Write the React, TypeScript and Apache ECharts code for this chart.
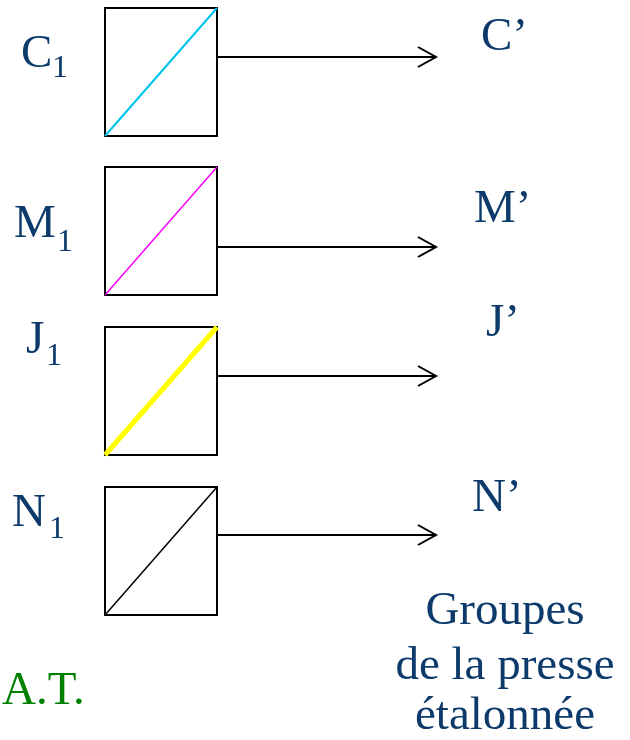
import React, { useEffect, useRef } from "react";
import * as echarts from "echarts";

// ---- content ----
const inkNames = ["C", "M", "J", "N"];
const inputSubscripts = ["1", "1", "1", "1"];
const outputNames = ["C\u2019", "M\u2019", "J\u2019", "N\u2019"];
const diagonalColors = ["#00c4f0", "#ff00ff", "#ffff00", "#000000"];
const diagonalWidths = [2, 1.5, 5, 1.5];
const sourceLabel = "A.T.";
const targetLabelLines = ["Groupes", "de la presse", "\u00e9talonn\u00e9e"];

// ---- layout (page pixels, mapped through a 1:1 hidden cartesian grid) ----
const W = 630;
const H = 740;
const boxLeft = 105;
const boxRight = 217;
const boxHeight = 128;
const boxTops = [8, 167, 327, 487];
const arrowYs = [57, 247, 376, 535];
const arrowTipX = 436;
const arrowHeadLen = 18;
const arrowHeadHalf = 10;
// label positions: x = left edge, y = vertical centre of capitals
const inkLabelX = [21, 14, 26, 12];
const inkLabelY = [50, 220, 336, 509];
const subLabelX = [52, 57, 46, 49];
const subLabelY = [66, 240, 354, 527];
const outLabelX = [481, 474, 486, 472];
const outLabelY = [33, 205, 319, 494];
const targetCenterX = 505;
const targetLineY = [607, 662, 712];
const sourceX = 2;
const sourceY = 687;

const TEXT_COLOR = "#0b3a6b";
const GREEN = "#008000";
const MAIN_SIZE = 47;
const SUB_SIZE = 32;

function label(text: string, x: number, yCenter: number, size: number, fill: string, centered = false) {
  const style: any = { text, fontFamily: "Liberation Serif", fontSize: size, fill };
  if (centered) style.align = "center";
  return { type: "text", x, y: Math.round(yCenter - size / 2), style };
}

export default function App() {
  const ref = useRef<HTMLDivElement>(null);

  useEffect(() => {
    if (!ref.current) return;
    const chart = echarts.init(ref.current, undefined, { renderer: "svg" });

    const renderItem = (params: any, api: any) => {
      const i = params.dataIndex;
      const top = boxTops[i];
      const bottom = top + boxHeight;
      const [x0, y0] = api.coord([boxLeft, top]);
      const [x1, y1] = api.coord([boxRight, bottom]);
      const [, ay] = api.coord([0, arrowYs[i]]);
      const [tipX] = api.coord([arrowTipX, 0]);
      return {
        type: "group",
        children: [
          {
            type: "rect",
            shape: { x: x0, y: y0, width: x1 - x0, height: y1 - y0 },
            style: { fill: "#ffffff", stroke: "#000000", lineWidth: 2 },
          },
          {
            type: "line",
            shape: { x1: x0, y1: y1, x2: x1, y2: y0 },
            style: { stroke: diagonalColors[i], lineWidth: diagonalWidths[i], lineCap: "butt" },
          },
          {
            type: "line",
            shape: { x1: x1, y1: ay, x2: tipX, y2: ay },
            style: { stroke: "#000000", lineWidth: 2 },
          },
          {
            type: "polyline",
            shape: {
              points: [
                [tipX - arrowHeadLen, ay - arrowHeadHalf],
                [tipX, ay],
                [tipX - arrowHeadLen, ay + arrowHeadHalf],
              ],
            },
            style: { stroke: "#000000", lineWidth: 2, fill: null },
          },
        ],
      };
    };

    const texts: any[] = [];
    inkNames.forEach((name, i) => {
      texts.push(label(name, inkLabelX[i], inkLabelY[i], MAIN_SIZE, TEXT_COLOR));
      texts.push(label(inputSubscripts[i], subLabelX[i], subLabelY[i], SUB_SIZE, TEXT_COLOR));
      texts.push(label(outputNames[i], outLabelX[i], outLabelY[i], MAIN_SIZE, TEXT_COLOR));
    });
    texts.push(label(sourceLabel, sourceX, sourceY, MAIN_SIZE, GREEN));
    targetLabelLines.forEach((t, k) => {
      texts.push(label(t, targetCenterX, targetLineY[k], MAIN_SIZE, TEXT_COLOR, true));
    });

    chart.setOption({
      animation: false,
      grid: { left: 0, right: 0, top: 0, bottom: 0 },
      xAxis: { type: "value", min: 0, max: W, show: false },
      yAxis: { type: "value", min: 0, max: H, inverse: true, show: false },
      series: [
        {
          type: "custom",
          clip: false,
          renderItem,
          data: inkNames.map((_, i) => [i, boxTops[i]]),
        },
      ],
      graphic: texts,
    });

    return () => chart.dispose();
  }, []);

  return <div ref={ref} style={{ position: "fixed", left: 0, top: 0, width: W, height: H }} />;
}
